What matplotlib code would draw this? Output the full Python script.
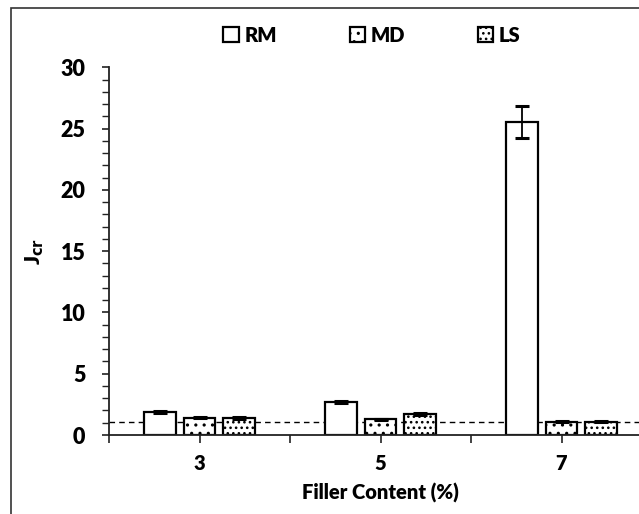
import matplotlib
matplotlib.use("Agg")
import matplotlib.pyplot as plt
from matplotlib.patches import Rectangle
import numpy as np

plt.rcParams['font.family'] = ['Lato', 'DejaVu Sans']
plt.rcParams['hatch.linewidth'] = 1.1

categories = ['3', '5', '7']
series = ['RM', 'MD', 'LS']
values = {
    'RM': [1.9, 2.7, 25.55],
    'MD': [1.42, 1.28, 1.08],
    'LS': [1.40, 1.71, 1.08],
}
errors = {
    'RM': [0.08, 0.1, 1.3],
    'MD': [0.07, 0.05, 0.04],
    'LS': [0.07, 0.07, 0.04],
}
hatches = {'RM': '', 'MD': '..', 'LS': '...'}
threshold = 1.1

W, H = 639, 514
fig = plt.figure(figsize=(W / 100, H / 100), dpi=100)

# outer chart border (cropped at right and bottom)
fig.add_artist(Rectangle((11 / W, -0.05), 1.2, 1 - 8 / H + 0.05, transform=fig.transFigure,
                         fill=False, edgecolor='#333333', linewidth=1.2))

ax = fig.add_axes([109 / W, 1 - 435 / H, (652 - 109) / W, (435 - 67.3) / H])

x = np.arange(len(categories))
bw = 0.176
pitch = 0.22
for i, s in enumerate(series):
    ax.bar(x + (i - 1) * pitch, values[s], width=bw, color='white', edgecolor='black',
           linewidth=1.6, hatch=hatches[s], label=s, zorder=2,
           yerr=errors[s], error_kw=dict(ecolor='black', elinewidth=1.3, capsize=5, capthick=2.2),
           )

ax.axhline(threshold, color='black', linestyle=(0, (4, 3)), linewidth=1.0, zorder=1)

ax.set_xlim(-0.5, 2.5)
ax.set_ylim(0, 30)
ax.set_xticks([-0.5, 0, 0.5, 1, 1.5, 2, 2.5])
ax.set_xticklabels(['', '3', '', '5', '', '7', ''])
ax.set_yticks(np.arange(0, 31, 5))
ax.set_yticks(np.arange(0, 31, 1), minor=True)
for sp in ['top', 'right']:
    ax.spines[sp].set_visible(False)
for sp in ['left', 'bottom']:
    ax.spines[sp].set_linewidth(1.3)
    ax.spines[sp].set_color('#222222')
ax.tick_params(axis='y', which='major', direction='out', length=5, width=1.2, color='#222222',
               labelsize=15.5, pad=12)
ax.tick_params(axis='y', which='minor', direction='out', length=5, width=1.0, color='#222222')
ax.tick_params(axis='x', direction='out', length=6, width=1.2, color='#222222', labelsize=14.5, pad=8)
for lab in ax.get_yticklabels() + ax.get_xticklabels():
    lab.set_fontweight('heavy')

ax.set_xlabel('Filler Content (%)', fontsize=14.5, fontweight='heavy', labelpad=7)
ax.set_ylabel(r'J$_{\mathbf{cr}}$', fontsize=15, fontweight='heavy', labelpad=10)

leg = fig.legend(loc='center', bbox_to_anchor=(372 / W, 1 - 35 / H), ncol=3, frameon=False,
                 prop={'weight': 'heavy', 'size': 14.5}, handlelength=0.75, handleheight=0.75,
                 handletextpad=0.3, columnspacing=3.6)

fig.savefig('out.png', dpi=100)
